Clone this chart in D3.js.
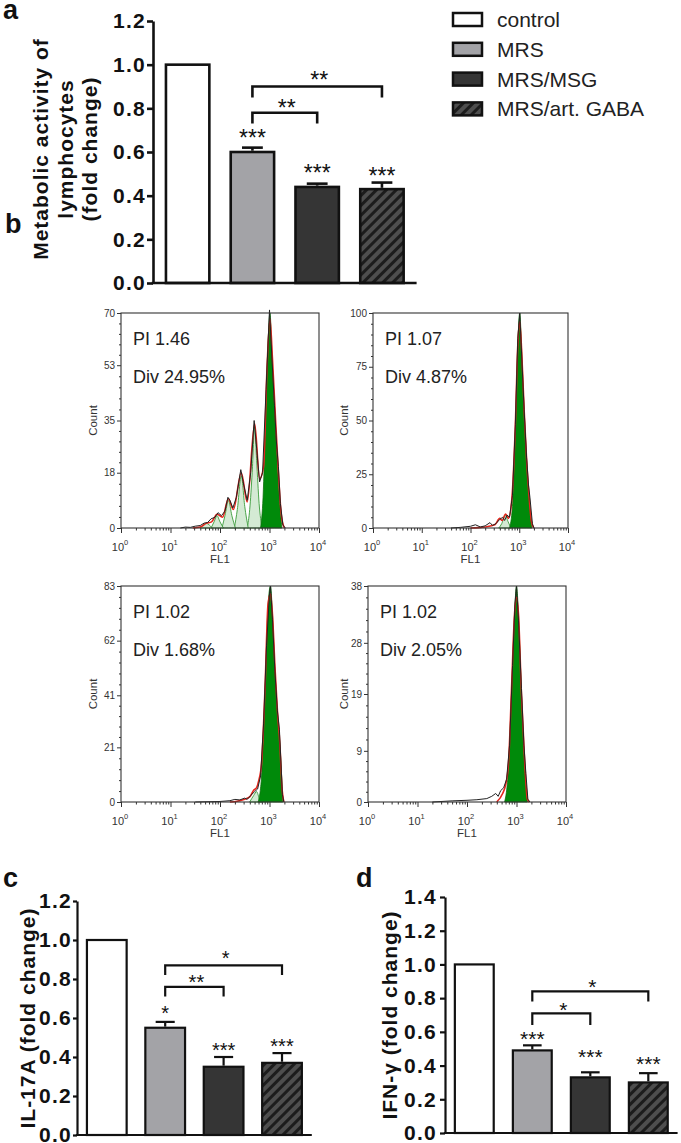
<!DOCTYPE html>
<html><head><meta charset="utf-8">
<script src="https://cdn.jsdelivr.net/npm/d3@7"></script>
<style>body{margin:0;background:#fff} svg{display:block} text{font-family:"Liberation Sans",Arial,sans-serif}</style>
</head><body>
<svg id="fig" width="681" height="1143"></svg>
<script>
// ---------- DATA ----------
const groups = ["control", "MRS", "MRS/MSG", "MRS/art. GABA"];

// Panel a: metabolic activity
const metabTicks = [0, 0.2, 0.4, 0.6, 0.8, 1.0, 1.2];
const metabMean = [1.00, 0.60, 0.44, 0.43];
const metabErr = [0, 0.02, 0.015, 0.03];
const metabStars = ["", "***", "***", "***"];
const metabStarY = [null, 0.687, 0.527, 0.513];
// [fromIndex, toIndex, barY, legY, labelY, label]
const metabBrackets = [[1, 2, 0.78, 0.73, 0.827, "**"], [1, 3, 0.90, 0.85, 0.953, "**"]];

// Panel c: IL-17A
const il17Ticks = [0, 0.2, 0.4, 0.6, 0.8, 1.0, 1.2];
const il17Mean = [1.00, 0.55, 0.35, 0.37];
const il17Err = [0, 0.03, 0.05, 0.05];
const il17Stars = ["", "*", "***", "***"];
const il17StarY = [null, 0.65, 0.46, 0.477];
const il17Brackets = [[1, 2, 0.76, 0.71, 0.808, "**"], [1, 3, 0.87, 0.82, 0.93, "*"]];

// Panel d: IFN-gamma
const ifnTicks = [0, 0.2, 0.4, 0.6, 0.8, 1.0, 1.2, 1.4];
const ifnMean = [1.00, 0.49, 0.33, 0.30];
const ifnErr = [0, 0.03, 0.03, 0.055];
const ifnStars = ["", "***", "***", "***"];
const ifnStarY = [null, 0.588, 0.481, 0.44];
const ifnBrackets = [[1, 2, 0.71, 0.64, 0.76, "*"], [1, 3, 0.84, 0.78, 0.897, "*"]];

// Panel b: proliferation histograms  (points are [log10(FL1), count])
const histPI = ["PI 1.46", "PI 1.07", "PI 1.02", "PI 1.02"];
const histDiv = ["Div 24.95%", "Div 4.87%", "Div 1.68%", "Div 2.05%"];
const histYTicks = [[0, 18, 35, 53, 70], [0, 25, 50, 75, 100], [0, 21, 41, 62, 83], [0, 9, 19, 28, 38]];
const flTicks = [1, 10, 100, 1000, 10000];

const h1Parent = [[2.82,0],[2.87,10],[2.92,35],[2.97,60],[3.01,70],[3.05,56],[3.10,40],[3.15,24],[3.20,10],[3.25,0]];
const h1Gens = [
  [[2.55,0],[2.60,6],[2.65,18],[2.70,33],[2.74,22],[2.79,8],[2.85,0]],
  [[2.29,0],[2.35,6],[2.43,17],[2.50,7],[2.57,0]],
  [[2.04,0],[2.10,4],[2.17,9],[2.24,4],[2.31,0]],
  [[1.82,0],[1.88,2],[1.94,4],[2.00,2],[2.07,0]],
  [[1.60,0],[1.72,1.5],[1.84,0]]
];
const h1Fit = [[1.45,0],[1.60,0.3],[1.72,1.5],[1.83,2],[1.94,4.5],[2.05,3.5],[2.17,9.5],[2.27,6],[2.43,18],[2.55,8.5],[2.70,34],[2.80,16],[2.88,20],[2.95,52],[3.01,68],[3.06,55],[3.12,36],[3.18,18],[3.24,4],[3.30,0]];
const h1Raw = [[1.2,0],[1.3,0.3],[1.4,0.2],[1.5,0.6],[1.6,0.8],[1.68,1.6],[1.75,1.8],[1.82,3],[1.9,3.5],[1.96,5],[2.03,4],[2.1,5.5],[2.16,10],[2.2,9],[2.26,6.5],[2.33,10],[2.42,19],[2.48,14],[2.55,9],[2.62,18],[2.69,35],[2.74,26],[2.80,15],[2.86,18],[2.93,45],[3.0,71],[3.05,55],[3.1,40],[3.14,28],[3.18,20],[3.22,8],[3.27,1],[3.32,0]];

const h2Parent = [[2.80,0],[2.86,10],[2.92,45],[2.97,85],[3.01,100],[3.05,82],[3.10,55],[3.15,32],[3.20,14],[3.26,0]];
const h2Gens = [[[2.58,0],[2.64,2],[2.71,6],[2.77,3],[2.83,0]]];
const h2Fit = [[2.0,0],[2.3,0.5],[2.5,1.5],[2.6,4.5],[2.65,3.5],[2.72,6.5],[2.78,4.5],[2.85,14],[2.92,48],[2.97,85],[3.01,96],[3.05,82],[3.10,55],[3.15,32],[3.20,15],[3.25,3],[3.3,0]];
const h2Raw = [[1.6,0],[1.8,0.3],[2.0,0.8],[2.1,1.5],[2.2,0.5],[2.3,1],[2.4,2.5],[2.45,1.2],[2.52,2],[2.6,4],[2.66,5],[2.7,3.5],[2.75,6],[2.8,5],[2.86,15],[2.92,48],[2.97,88],[3.01,100],[3.05,80],[3.1,55],[3.15,33],[3.19,20],[3.22,14],[3.27,2],[3.3,0]];

const h3Parent = [[2.77,0],[2.84,10],[2.91,42],[2.97,75],[3.02,83],[3.06,72],[3.11,50],[3.16,34],[3.21,22],[3.27,0]];
const h3Gens = [[[2.60,0],[2.68,2.5],[2.74,4],[2.80,1],[2.85,0]]];
const h3Fit = [[2.2,0],[2.45,0.8],[2.6,2],[2.68,4.5],[2.74,5.5],[2.78,8],[2.84,15],[2.91,44],[2.97,76],[3.02,80],[3.06,72],[3.11,52],[3.16,35],[3.21,22],[3.25,6],[3.29,0]];
const h3Raw = [[1.5,0],[2.0,0.2],[2.2,0.5],[2.3,1],[2.4,0.8],[2.5,1.5],[2.55,1],[2.62,2.5],[2.7,4],[2.76,5],[2.82,10],[2.88,30],[2.94,60],[3.0,80],[3.02,83],[3.06,70],[3.11,50],[3.16,35],[3.2,28],[3.22,20],[3.26,3],[3.29,0]];

const h4Parent = [[2.76,0],[2.83,5],[2.90,19],[2.96,33],[3.00,38],[3.04,33],[3.10,19],[3.16,7],[3.22,0]];
const h4Gens = [];
const h4Fit = [[2.6,0],[2.72,1.5],[2.78,3],[2.84,7],[2.90,20],[2.96,33],[3.00,36],[3.04,33],[3.10,19],[3.16,8],[3.22,0.5],[3.26,0]];
const h4Raw = [[1.3,0],[1.7,0.2],[2.0,0.3],[2.2,0.4],[2.4,0.6],[2.5,1],[2.58,1.5],[2.63,1],[2.68,2],[2.74,2.5],[2.8,4],[2.86,10],[2.92,24],[2.97,35],[3.0,38],[3.04,32],[3.1,20],[3.15,10],[3.19,5],[3.23,0.5],[3.27,0]];

// ---------- DRAWING ----------
const svg = d3.select("#fig");
const defs = svg.append("defs");
const pat = defs.append("pattern").attr("id", "hatch").attr("patternUnits", "userSpaceOnUse")
  .attr("width", 7).attr("height", 7).attr("patternTransform", "rotate(45)");
pat.append("rect").attr("width", 7).attr("height", 7).attr("fill", "#4e4e4e");
pat.append("rect").attr("width", 3).attr("height", 7).attr("fill", "#1c1c1c");

const fills = ["#ffffff", "#a3a3a7", "#353535", "url(#hatch)"];
const INK = "#111";
const BIG = 21;

function barPanel(o) {
  const g = svg.append("g");
  const y = d3.scaleLinear().domain([0, o.ticks[o.ticks.length - 1]]).range([o.yBot, o.yTop]);
  const x = d3.scaleBand().domain(groups).range([o.x0, o.x1]).paddingInner(o.pi).paddingOuter(o.po);
  const bw = x.bandwidth();
  g.selectAll("rect.bar").data(groups).enter().append("rect")
    .attr("x", d => x(d)).attr("width", bw)
    .attr("y", (d, i) => y(o.means[i])).attr("height", (d, i) => y(0) - y(o.means[i]))
    .attr("fill", (d, i) => fills[i]).attr("stroke", INK).attr("stroke-width", o.sw);
  groups.forEach((d, i) => {
    if (!o.errs[i]) return;
    const cx = x(d) + bw / 2, top = y(o.means[i] + o.errs[i]);
    g.append("line").attr("x1", cx).attr("x2", cx).attr("y1", y(o.means[i]) - o.sw / 2).attr("y2", top)
      .attr("stroke", INK).attr("stroke-width", o.sw);
    g.append("line").attr("x1", cx - bw * 0.24).attr("x2", cx + bw * 0.24).attr("y1", top).attr("y2", top)
      .attr("stroke", INK).attr("stroke-width", o.sw);
    g.append("text").attr("x", cx).attr("y", y(o.starY[i])).attr("dy", "0.575em")
      .attr("text-anchor", "middle").attr("font-size", o.starFs).attr("fill", INK).text(o.stars[i]);
  });
  o.brackets.forEach(b => {
    const xa = x(groups[b[0]]) + bw / 2, xb = x(groups[b[1]]) + bw / 2;
    g.append("path").attr("d", `M${xa},${y(b[3])}V${y(b[2])}H${xb}V${y(b[3])}`)
      .attr("fill", "none").attr("stroke", INK).attr("stroke-width", o.sw);
    g.append("text").attr("x", (xa + xb) / 2 + 2).attr("y", y(b[4])).attr("dy", "0.575em")
      .attr("text-anchor", "middle").attr("font-size", o.starFs).attr("fill", INK).text(b[5]);
  });
  const ax = g.append("g").attr("transform", `translate(${o.x0},0)`)
    .call(d3.axisLeft(y).tickValues(o.ticks).tickFormat(d3.format(".1f")).tickSize(o.tk).tickPadding(o.tp).tickSizeOuter(0));
  ax.select(".domain").attr("stroke", INK).attr("stroke-width", o.sw);
  ax.selectAll(".tick line").attr("stroke", INK).attr("stroke-width", o.sw);
  ax.selectAll(".tick text").attr("font-size", BIG).attr("font-weight", "bold").attr("fill", INK)
    .attr("letter-spacing", 1.3).attr("font-family", "'Liberation Sans',Arial,sans-serif");
  g.append("line").attr("x1", o.x0 - o.sw / 2).attr("x2", o.x1).attr("y1", y(0)).attr("y2", y(0))
    .attr("stroke", INK).attr("stroke-width", o.sw);
  o.title.forEach((t, k) => {
    g.append("text").attr("transform", `translate(${o.titleX[k]},${o.titleY}) rotate(-90)`)
      .attr("text-anchor", "middle").attr("font-size", BIG).attr("font-weight", "bold")
      .attr("letter-spacing", 1).attr("fill", INK).text(t);
  });
  g.append("text").attr("x", o.letter[1]).attr("y", o.letter[2]).attr("font-size", 27)
    .attr("font-weight", "bold").attr("fill", INK).text(o.letter[0]);
}

barPanel({x0: 153, x1: 416.6, yTop: 21, yBot: 283, pi: 0.33, po: 0.2, ticks: metabTicks,
  means: metabMean, errs: metabErr, stars: metabStars, starY: metabStarY, brackets: metabBrackets,
  starFs: 23, sw: 2.6, tk: 6, tp: 1, title: ["Metabolic activity of", "lymphocytes", "(fold change)"],
  titleX: [48, 73, 97], titleY: 149, letter: ["a", 3, 19]});

barPanel({x0: 77, x1: 311.8, yTop: 901, yBot: 1135, pi: 0.32, po: 0.17, ticks: il17Ticks,
  means: il17Mean, errs: il17Err, stars: il17Stars, starY: il17StarY, brackets: il17Brackets,
  starFs: 20, sw: 2.2, tk: 4, tp: 1, title: ["IL-17A (fold change)"], titleX: [35], titleY: 1018,
  letter: ["c", 3, 887]});

barPanel({x0: 445, x1: 677.6, yTop: 897, yBot: 1133, pi: 0.33, po: 0.17, ticks: ifnTicks,
  means: ifnMean, errs: ifnErr, stars: ifnStars, starY: ifnStarY, brackets: ifnBrackets,
  starFs: 21, sw: 2.2, tk: 5, tp: 3, title: ["IFN-γ (fold change)"], titleX: [397], titleY: 1015,
  letter: ["d", 356, 887]});

// legend
const lg = svg.append("g");
groups.forEach((gname, i) => {
  const cy = 19.5 + i * 29.8;
  lg.append("rect").attr("x", 453).attr("y", cy - 6.5).attr("width", 29).attr("height", 13)
    .attr("fill", fills[i]).attr("stroke", INK).attr("stroke-width", 2.5);
  lg.append("text").attr("x", 497).attr("y", cy + 7.5).attr("font-size", 21).attr("fill", "#222").text(gname);
});

svg.append("text").attr("x", 5).attr("y", 233).attr("font-size", 27).attr("font-weight", "bold").attr("fill", INK).text("b");

function hist(k, L, R, T, B, countX, raw, fit, parent, gens) {
  const g = svg.append("g");
  const yt = histYTicks[k];
  const x = d3.scaleLog().domain([1, 1e4]).range([L, R]);
  const y = d3.scaleLinear().domain([0, yt[yt.length - 1]]).range([B, T]);
  const px = d => x(Math.pow(10, d[0]));
  const area = d3.area().x(px).y0(B).y1(d => y(d[1])).curve(d3.curveMonotoneX);
  const line = d3.line().x(px).y(d => y(d[1]));
  gens.forEach(gp => g.append("path").attr("d", area(gp)).attr("fill", "#d4ead4")
    .attr("stroke", "#3a9c3a").attr("stroke-width", 0.9));
  g.append("path").attr("d", area(parent)).attr("fill", "#008a0a").attr("stroke", "#0a6e0a").attr("stroke-width", 0.8);
  g.append("path").attr("d", line.curve(d3.curveMonotoneX)(fit)).attr("fill", "none")
    .attr("stroke", "#e3261c").attr("stroke-width", 1.6);
  g.append("path").attr("d", line.curve(d3.curveLinear)(raw)).attr("fill", "none")
    .attr("stroke", "#222").attr("stroke-width", 1);
  g.append("rect").attr("x", L).attr("y", T).attr("width", R - L).attr("height", B - T)
    .attr("fill", "none").attr("stroke", "#333").attr("stroke-width", 1.1);
  const minor = [];
  for (let i = 0; i < yt.length - 1; i++) for (let j = 1; j < 5; j++) minor.push(yt[i] + (yt[i + 1] - yt[i]) * j / 5);
  const ya = g.append("g").attr("transform", `translate(${L},0)`)
    .call(d3.axisLeft(y).tickValues(yt).tickSize(4).tickPadding(2).tickSizeOuter(0));
  ya.select(".domain").remove();
  ya.selectAll(".tick line").attr("stroke", "#333");
  ya.selectAll(".tick text").attr("font-size", 10).attr("fill", "#333").attr("font-family", "'Liberation Sans',Arial,sans-serif");
  const ym = g.append("g").attr("transform", `translate(${L},0)`)
    .call(d3.axisLeft(y).tickValues(minor).tickSize(2).tickFormat(""));
  ym.select(".domain").remove();
  ym.selectAll(".tick line").attr("stroke", "#333");
  const xminor = [];
  flTicks.slice(0, -1).forEach(t => { for (let m = 2; m < 10; m++) xminor.push(t * m); });
  const xa = g.append("g").attr("transform", `translate(0,${B})`)
    .call(d3.axisBottom(x).tickValues(flTicks).tickSize(5).tickFormat("").tickSizeOuter(0));
  xa.select(".domain").remove();
  xa.selectAll(".tick line").attr("stroke", "#333");
  const xm = g.append("g").attr("transform", `translate(0,${B})`)
    .call(d3.axisBottom(x).tickValues(xminor).tickSize(2.5).tickFormat(""));
  xm.select(".domain").remove();
  xm.selectAll(".tick line").attr("stroke", "#333");
  flTicks.forEach(t => {
    const tx = g.append("text").attr("x", x(t) - 1).attr("y", B + 23).attr("text-anchor", "middle")
      .attr("font-size", 11).attr("fill", "#333");
    tx.append("tspan").text("10");
    tx.append("tspan").attr("dy", -6).attr("font-size", 7.5).text(String(Math.round(Math.log10(t))));
  });
  g.append("text").attr("x", (L + R) / 2).attr("y", B + 35).attr("text-anchor", "middle")
    .attr("font-size", 11.5).attr("fill", "#333").text("FL1");
  g.append("text").attr("transform", `translate(${countX},${(T + B) / 2}) rotate(-90)`)
    .attr("text-anchor", "middle").attr("font-size", 11.5).attr("fill", "#333").text("Count");
  g.append("text").attr("x", L + 12).attr("y", T + 32).attr("font-size", 18).attr("fill", "#222").text(histPI[k]);
  g.append("text").attr("x", L + 12).attr("y", T + 70).attr("font-size", 18).attr("fill", "#222").text(histDiv[k]);
}

hist(0, 121, 319, 313, 528, 97, h1Raw, h1Fit, h1Parent, h1Gens);
hist(1, 373, 568, 313, 528, 348, h2Raw, h2Fit, h2Parent, h2Gens);
hist(2, 121, 319, 586, 802, 97, h3Raw, h3Fit, h3Parent, h3Gens);
hist(3, 368, 566, 586, 802, 348, h4Raw, h4Fit, h4Parent, h4Gens);
</script>
</body></html>
